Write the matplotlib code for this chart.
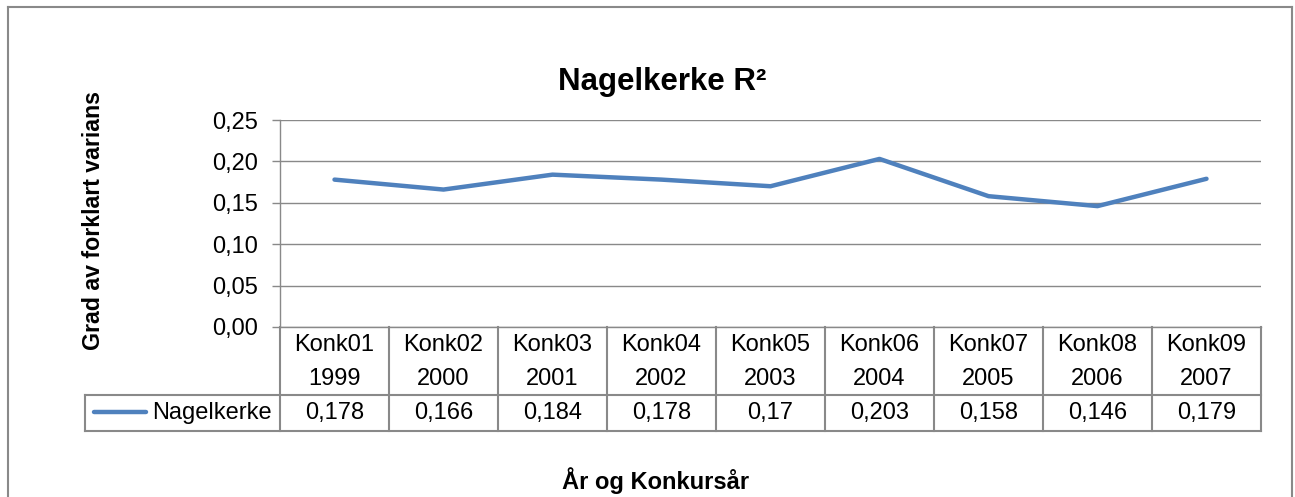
import matplotlib.pyplot as plt
from matplotlib.lines import Line2D

plt.rcParams['font.family'] = ['Liberation Sans', 'DejaVu Sans']

konk = ["Konk01", "Konk02", "Konk03", "Konk04", "Konk05",
        "Konk06", "Konk07", "Konk08", "Konk09"]
years = ["1999", "2000", "2001", "2002", "2003", "2004", "2005", "2006", "2007"]
nagelkerke = [0.178, 0.166, 0.184, 0.178, 0.17, 0.203, 0.158, 0.146, 0.179]
yticks = [0.0, 0.05, 0.10, 0.15, 0.20, 0.25]

W, H = 1295, 497
BLUE = "#4F81BD"
GRAY = "#898989"
FS = 17

fig = plt.figure(figsize=(W / 100, H / 100), dpi=100)

# plot area in pixels
x0, x1, ytop, ybot = 280, 1261, 120, 327
ax = fig.add_axes([x0 / W, 1 - ybot / H, (x1 - x0) / W, (ybot - ytop) / H])

n = len(nagelkerke)
xs = [i + 0.5 for i in range(n)]
ax.plot(xs, nagelkerke, color=BLUE, lw=3.2, solid_capstyle="round",
        solid_joinstyle="round")
ax.set_xlim(0, n)
ax.set_ylim(0, 0.25)
ax.set_yticks(yticks)
ax.set_yticklabels([f"{t:.2f}".replace(".", ",") for t in yticks], fontsize=FS)
ax.set_xticks([])
ax.tick_params(axis="y", length=6, width=1, color=GRAY, pad=10)
ax.grid(axis="y", color=GRAY, lw=1)
ax.set_axisbelow(True)
for s in ["top", "right"]:
    ax.spines[s].set_visible(False)
for s in ["left", "bottom"]:
    ax.spines[s].set_color(GRAY)
    ax.spines[s].set_linewidth(1)

# data table below the plot, y in axes units (1 unit = plot height)
ph = ybot - ytop
def ay(py):
    return -(py - ybot) / ph

tr = ax.get_xaxis_transform()
xpx = (x1 - x0) / n
xleft = (85 - x0) / xpx
y_hdr = ay(395)
y_bot = ay(431)

def tline(xa, ya):
    ax.add_line(Line2D(xa, ya, transform=tr, color=GRAY, lw=1.5, clip_on=False))

for i in range(n + 1):
    tline([i, i], [0, y_bot])
tline([xleft, n], [y_hdr, y_hdr])
tline([xleft, n], [y_bot, y_bot])
tline([xleft, xleft], [y_hdr, y_bot])

for i in range(n):
    ax.text(i + 0.5, ay(345), konk[i], transform=tr, ha="center", va="center",
            fontsize=FS, clip_on=False)
    ax.text(i + 0.5, ay(379), years[i], transform=tr, ha="center", va="center",
            fontsize=FS, clip_on=False)
    ax.text(i + 0.5, ay(413), str(nagelkerke[i]).replace(".", ","), transform=tr,
            ha="center", va="center", fontsize=FS, clip_on=False)

# legend key in the table
ax.add_line(Line2D([(94 - x0) / xpx, (146 - x0) / xpx], [ay(412), ay(412)],
                   transform=tr, color=BLUE, lw=3.2, solid_capstyle="round",
                   clip_on=False))
ax.text((272 - x0) / xpx, ay(413), "Nagelkerke", transform=tr, ha="right",
        va="center", fontsize=FS, clip_on=False)

# titles
fig.text(662 / W, 1 - 82 / H, "Nagelkerke R²", ha="center",
         va="center", fontsize=22.5, fontweight="bold")
fig.text(94 / W, 1 - 220 / H, "Grad av forklart varians", rotation=90,
         ha="center", va="center", fontsize=16.7, fontweight="bold")
fig.text(656 / W, 1 - 481 / H, "År og Konkursår", ha="center", va="center",
         fontsize=17, fontweight="bold")

# outer chart border
for xa, ya in [([8, 8], [H, 7]), ([8, 1292], [7, 7]), ([1292, 1292], [7, H])]:
    fig.add_artist(Line2D([v / W for v in xa], [1 - v / H for v in ya],
                          color=GRAY, lw=1.5))

fig.savefig("out.png", dpi=100)
